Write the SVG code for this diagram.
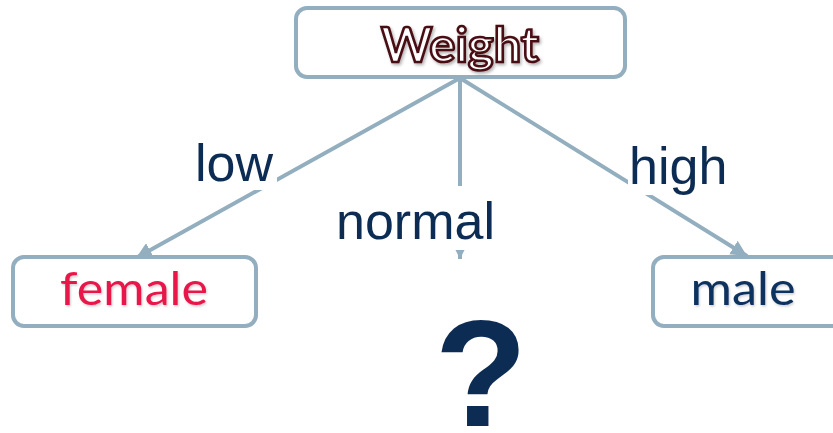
<svg xmlns="http://www.w3.org/2000/svg" width="833" height="433" viewBox="0 0 833 433">
  <defs>
    <marker id="arrow" markerUnits="userSpaceOnUse" markerWidth="16" markerHeight="16" viewBox="0 0 14 14" refX="14" refY="7" orient="auto">
      <path d="M0,0 L14,7 L0,14 Z" fill="#93AEBE"/>
    </marker>
    <filter id="shadow" x="-10%" y="-20%" width="130%" height="150%">
      <feDropShadow dx="1.5" dy="2" stdDeviation="1.5" flood-color="#000" flood-opacity="0.3"/>
    </filter>
    <filter id="soft" x="-10%" y="-20%" width="130%" height="150%">
      <feDropShadow dx="1" dy="1.5" stdDeviation="1.2" flood-color="#000" flood-opacity="0.2"/>
    </filter>
  </defs>
  <style>
    .box { fill: #ffffff; stroke: #93AEBE; stroke-width: 4; }
    .edge { stroke: #93AEBE; stroke-width: 4; fill: none; marker-end: url(#arrow); }
    .mask { fill: #ffffff; }
    .lbl { font-family: "Liberation Sans", Arial, sans-serif; font-size: 52px; fill: #0C2C53; }
    .leaf { font-family: Lato, "Open Sans", sans-serif; font-size: 46px; text-anchor: middle; filter: url(#soft); }
  </style>

  <rect width="833" height="433" fill="#ffffff"/>

  <!-- connectors with their labels -->
  <g id="connectors">
    <line class="edge" x1="460" y1="78" x2="136" y2="258"/>
    <line class="edge" x1="460" y1="78" x2="460" y2="259"/>
    <line class="edge" x1="460" y1="78" x2="747" y2="256"/>
    <rect class="mask" x="188" y="130" width="89" height="60"/>
    <rect class="mask" x="628" y="135" width="110" height="60"/>
    <rect class="mask" x="330" y="186" width="175" height="64"/>
    <text class="lbl" x="195" y="181">low</text>
    <text class="lbl" x="629" y="184">high</text>
    <text class="lbl" x="336" y="239">normal</text>
  </g>

  <g id="node-weight">
    <rect class="box" x="296" y="8" width="329" height="69" rx="11"/>
    <text x="460" y="62" text-anchor="middle" font-family="Lato, 'Open Sans', sans-serif" font-weight="bold" font-size="48" textLength="158" lengthAdjust="spacingAndGlyphs" fill="#ffffff" stroke="#4A0F12" stroke-width="2.6" filter="url(#shadow)">Weight</text>
  </g>

  <g id="node-female">
    <rect class="box" x="13" y="257" width="243" height="69" rx="11"/>
    <text class="leaf" x="134" y="305" fill="#E8174A" textLength="148" lengthAdjust="spacingAndGlyphs">female</text>
  </g>

  <g id="node-male">
    <rect class="box" x="653" y="257" width="200" height="69" rx="11"/>
    <text class="leaf" x="743" y="305" fill="#0C305E" textLength="105" lengthAdjust="spacingAndGlyphs">male</text>
  </g>

  <g id="node-unknown">
    <text x="481" y="426" text-anchor="middle" font-family="'Liberation Sans', Arial, sans-serif" font-weight="bold" font-size="152" fill="#0C2C53">?</text>
  </g>
</svg>
